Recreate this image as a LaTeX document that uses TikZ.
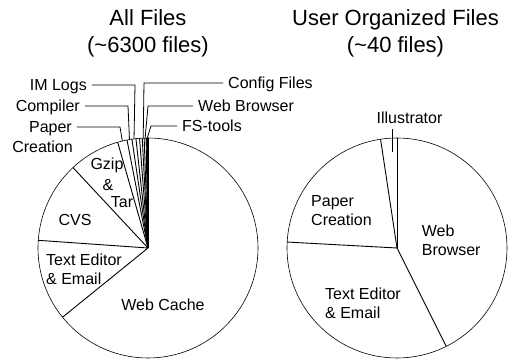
\documentclass[tikz,border=0pt]{standalone}
\usepackage{fontspec}
\setmainfont{Liberation Sans}
\usetikzlibrary{positioning}

\begin{document}
\begin{tikzpicture}[x=1pt, y=1pt,
    txt/.style={font=\fontsize{16}{19}\selectfont, inner sep=0pt},
    lbl/.style={font=\fontsize{16}{19}\selectfont, text height=11.5pt, text depth=0pt, inner xsep=5pt, inner ysep=5pt},
    title/.style={font=\fontsize{22}{27}\selectfont, align=center},
    rim/.style={line width=0.6pt},
    cut/.style={line width=0.9pt},
    lead/.style={line width=0.8pt}]
    \useasboundingbox (-148,-115) rectangle (360,248);
    % all files
    \draw[rim] (0,0) circle (110pt);
    \foreach \a in {90,90.3,90.6,91,92,93,94.4,96.3,98.4,101,106,133,176,219}
        \draw[cut] (0,0) -- (\a:110pt);
    \node[title] (allT) at (0,214.5) {All Files\\(\textasciitilde6300 files)};
    \node[lbl, anchor=east] (imlogs) at (-56,163) {IM Logs};
    \node[lbl, anchor=east] (compiler) at (-63,142) {Compiler};
    \node[lbl, anchor=east] (paperA) at (-71,121) {Paper};
    \node[lbl, anchor=east] (paperB) at (-70,101) {Creation};
    \node[lbl, anchor=west] (config) at (75,165) {Config Files};
    \node[lbl, anchor=west] (webbr) at (45,142) {Web Browser};
    \node[lbl, anchor=west] (fstools) at (29,122) {FS-tools};
    \coordinate (paperE) at (103.5:110pt);
    \coordinate (compE) at (99.7:110pt);
    \coordinate (imE) at (97.3:110pt);
    \coordinate (configE) at (92.5:110pt);
    \coordinate (webbrE) at (91.5:110pt);
    \coordinate (fsE) at (90.4:110pt);
    \draw[lead] (imlogs.east) -- ++(43,0) -- (imE);
    \draw[lead] (compiler.east) -- ++(43,0) -- (compE);
    \draw[lead] (paperA.east) -- ++(43,0) -- (paperE);
    \draw[lead] (config.west) -- ++(-79,0) -- (configE);
    \draw[lead] (webbr.west) -- ++(-45,0) -- (webbrE);
    \draw[lead] (fstools.west) -- ++(-26,0) -- (fsE);
    \node[txt] (gzipA) at (-41,83) {Gzip};
    \node[txt] (gzipB) at (-40,63) {\&};
    \node[txt] (gzipC) at (-26,46) {Tar};
    \node[txt] (cvs) at (-73,28) {CVS};
    \node[txt, anchor=west, align=left] (editL) at (-102,-21) {Text Editor\\\& Email};
    \node[txt] (cache) at (15,-57) {Web Cache};
    % user organized files
    \begin{scope}[shift={(249,0)}]
    \draw[rim] (0,0) circle (110pt);
    \foreach \a in {90,98.6,176.9,296.6}
        \draw[cut] (0,0) -- (\a:110pt);
    \node[title] (userT) at (-1.5,214.5) {User Organized Files\\(\textasciitilde40 files)};
    \node[lbl] (illu) at (12.5,130) {Illustrator};
    \coordinate (illuIn) at (93:96pt);
    \draw[lead] (illuIn) -- (illuIn |- illu.south);
    \node[txt, anchor=west, align=left] (paperR) at (-86,37.5) {Paper\\Creation};
    \node[txt, anchor=west, align=left] (webR) at (24.7,8) {Web\\Browser};
    \node[txt, anchor=west, align=left] (editR) at (-72,-55) {Text Editor\\\& Email};
    \end{scope}
\end{tikzpicture}
\end{document}
